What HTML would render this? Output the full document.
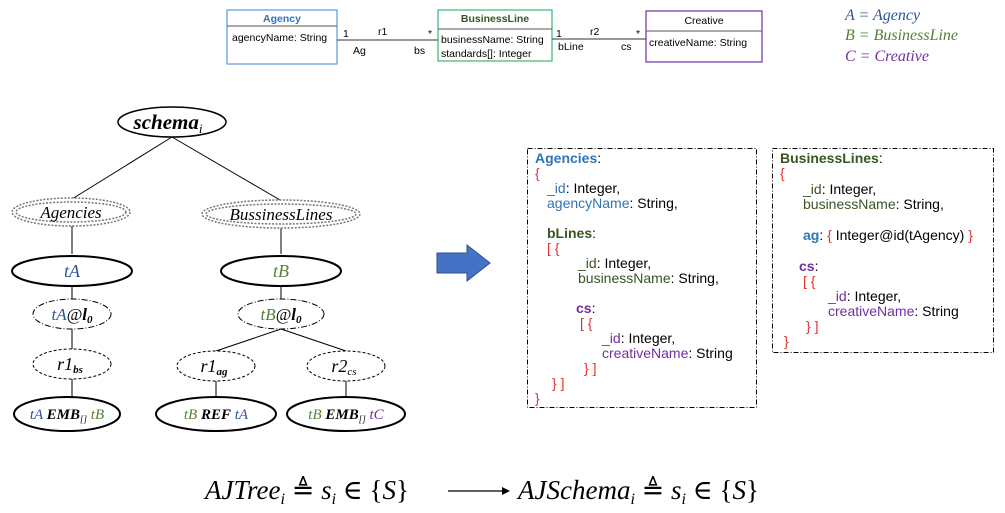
<!DOCTYPE html>
<html><head><meta charset="utf-8"><style>
html,body{margin:0;padding:0;background:#fff;}
svg{display:block;}
.u{font-family:"Liberation Sans",sans-serif;font-size:10.5px;}
.j{font-family:"Liberation Sans",sans-serif;font-size:14px;}
.m{font-family:"Liberation Serif","DejaVu Serif",serif;font-style:italic;}
</style></head><body>
<svg width="1005" height="513" viewBox="0 0 1005 513" xmlns="http://www.w3.org/2000/svg">
<rect x="227" y="10" width="110" height="54" fill="#fff" stroke="#5b9bd5" stroke-width="1.2"/>
<line x1="227" y1="26" x2="337" y2="26" stroke="#555"/>
<text x="282" y="22" class="u" text-anchor="middle" font-weight="bold" fill="#2e75b6">Agency</text>
<text x="232" y="41" class="u">agencyName: String</text>
<rect x="438" y="10" width="114" height="51" fill="#fff" stroke="#3cb371" stroke-width="1.2"/>
<line x1="438" y1="29" x2="552" y2="29" stroke="#555"/>
<text x="495" y="22" class="u" text-anchor="middle" font-weight="bold" fill="#375623">BusinessLine</text>
<text x="441" y="43" class="u">businessName: String</text>
<text x="441" y="57" class="u">standards[]: Integer</text>
<rect x="646" y="11" width="116" height="51" fill="#fff" stroke="#7030a0" stroke-width="1.2"/>
<line x1="646" y1="31" x2="762" y2="31" stroke="#555"/>
<text x="704" y="24" class="u" text-anchor="middle">Creative</text>
<text x="649" y="46" class="u">creativeName: String</text>
<line x1="337" y1="40" x2="438" y2="40" stroke="#333"/>
<line x1="552" y1="39" x2="646" y2="39" stroke="#333"/>
<text x="343" y="37" class="u">1</text><text x="378" y="35" class="u">r1</text><text x="428" y="37" class="u">*</text>
<text x="353" y="54" class="u">Ag</text><text x="414" y="54" class="u">bs</text>
<text x="556" y="37" class="u">1</text><text x="590" y="35" class="u">r2</text><text x="636" y="37" class="u">*</text>
<text x="558" y="50" class="u">bLine</text><text x="621" y="50" class="u">cs</text>
<text x="845" y="20" class="m" font-size="16" fill="#2f5597">A = Agency</text>
<text x="845" y="40" class="m" font-size="16" fill="#548235">B = BusinessLine</text>
<text x="845" y="61" class="m" font-size="16" fill="#7030a0">C = Creative</text>

<g stroke="#000" stroke-width="1">
<line x1="172" y1="137" x2="72" y2="199"/>
<line x1="172" y1="137" x2="280" y2="200"/>
<line x1="72" y1="226" x2="72" y2="254"/>
<line x1="281" y1="228" x2="281" y2="254"/>
<line x1="72" y1="286" x2="72" y2="299"/>
<line x1="281" y1="286" x2="281" y2="299"/>
<line x1="72" y1="329" x2="72" y2="349"/>
<line x1="281" y1="329" x2="216" y2="351"/>
<line x1="281" y1="329" x2="346" y2="351"/>
<line x1="72" y1="379" x2="72" y2="397"/>
<line x1="216" y1="381" x2="216" y2="397"/>
<line x1="346" y1="381" x2="346" y2="397"/>
</g>
<ellipse cx="172" cy="122" rx="54" ry="15" fill="#fff" stroke="#000" stroke-width="1.5"/>
<text x="168" y="129" class="m" font-size="21" font-weight="bold" text-anchor="middle">schema<tspan font-size="13" dy="4" font-weight="normal">i</tspan></text>
<ellipse cx="71" cy="212" rx="59" ry="14" fill="#fff" stroke="#777" stroke-width="1.5" stroke-dasharray="2,1.5"/>
<ellipse cx="71" cy="212" rx="55" ry="10" fill="none" stroke="#777" stroke-width="1.5" stroke-dasharray="2,1.5"/>
<text x="71" y="218" class="m" font-size="17" text-anchor="middle">Agencies</text>
<ellipse cx="281" cy="214" rx="79" ry="14" fill="#fff" stroke="#777" stroke-width="1.5" stroke-dasharray="2,1.5"/>
<ellipse cx="281" cy="214" rx="75" ry="10" fill="none" stroke="#777" stroke-width="1.5" stroke-dasharray="2,1.5"/>
<text x="281" y="220" class="m" font-size="17" text-anchor="middle">BussinessLines</text>
<ellipse cx="72" cy="271" rx="60" ry="15" fill="#fff" stroke="#000" stroke-width="2"/>
<text x="72" y="277" class="m" font-size="18" text-anchor="middle" fill="#2f5597">tA</text>
<ellipse cx="281" cy="271" rx="60" ry="15" fill="#fff" stroke="#000" stroke-width="2"/>
<text x="281" y="277" class="m" font-size="18" text-anchor="middle" fill="#548235">tB</text>
<ellipse cx="72" cy="314" rx="39" ry="15" fill="#fff" stroke="#000" stroke-dasharray="6,2,1,2"/>
<text x="72" y="320" class="m" font-size="17" text-anchor="middle"><tspan fill="#2f5597">tA</tspan>@<tspan font-weight="bold">l</tspan><tspan font-size="11" font-weight="bold" dy="3">0</tspan></text>
<ellipse cx="281" cy="314" rx="43" ry="15" fill="#fff" stroke="#000" stroke-dasharray="6,2,1,2"/>
<text x="281" y="320" class="m" font-size="17" text-anchor="middle"><tspan fill="#548235">tB</tspan>@<tspan font-weight="bold">l</tspan><tspan font-size="11" font-weight="bold" dy="3">0</tspan></text>
<ellipse cx="72" cy="364" rx="39" ry="15" fill="#fff" stroke="#000" stroke-dasharray="3,2"/>
<text x="70" y="370" class="m" font-size="18" text-anchor="middle">r1<tspan font-size="11" font-weight="bold" dy="3">bs</tspan></text>
<ellipse cx="216" cy="366" rx="39" ry="15" fill="#fff" stroke="#000" stroke-dasharray="3,2"/>
<text x="214" y="372" class="m" font-size="18" text-anchor="middle">r1<tspan font-size="11" font-weight="bold" dy="3">ag</tspan></text>
<ellipse cx="346" cy="366" rx="39" ry="15" fill="#fff" stroke="#000" stroke-dasharray="3,2"/>
<text x="344" y="372" class="m" font-size="18" text-anchor="middle">r2<tspan font-size="11" dy="3">cs</tspan></text>
<ellipse cx="67" cy="414" rx="53" ry="17" fill="#fff" stroke="#000" stroke-width="2"/>
<text x="67" y="419" class="m" font-size="15" text-anchor="middle"><tspan fill="#2f5597">tA</tspan> <tspan font-weight="bold">EMB</tspan><tspan font-size="9" dy="3">[]</tspan><tspan dy="-3" fill="#548235"> tB</tspan></text>
<ellipse cx="216" cy="414" rx="60" ry="17" fill="#fff" stroke="#000" stroke-width="2"/>
<text x="216" y="419" class="m" font-size="15" text-anchor="middle"><tspan fill="#548235">tB</tspan> <tspan font-weight="bold">REF</tspan> <tspan fill="#2f5597">tA</tspan></text>
<ellipse cx="346" cy="414" rx="59" ry="17" fill="#fff" stroke="#000" stroke-width="2"/>
<text x="346" y="419" class="m" font-size="15" text-anchor="middle"><tspan fill="#548235">tB</tspan>  <tspan font-weight="bold">EMB</tspan><tspan font-size="9" dy="3">[]</tspan><tspan dy="-3" fill="#7030a0"> tC</tspan></text>

<polygon points="437,253 467,253 467,245 490,263 467,281 467,273 437,273" fill="#4472c4" stroke="#2f528f"/>

<rect x="527.5" y="148.5" width="229" height="259" fill="none" stroke="#000" stroke-dasharray="5,2,1,2"/>
<rect x="772.5" y="148.5" width="221" height="204" fill="none" stroke="#000" stroke-dasharray="5,2,1,2"/>
<g class="j">
<text x="535" y="163"><tspan fill="#2e75b6" font-weight="bold">Agencies</tspan>:</text>
<text x="535" y="178" fill="#e03030">{</text>
<text x="547" y="193"><tspan fill="#2e75b6">_id</tspan>: Integer,</text>
<text x="547" y="208"><tspan fill="#2e75b6">agencyName</tspan>: String,</text>
<text x="547" y="238"><tspan fill="#375623" font-weight="bold">bLines</tspan>:</text>
<text x="547" y="253" fill="#e03030">[ {</text>
<text x="578" y="268"><tspan fill="#375623">_id</tspan>: Integer,</text>
<text x="578" y="283"><tspan fill="#375623">businessName</tspan>: String,</text>
<text x="576" y="313"><tspan fill="#7030a0" font-weight="bold">cs</tspan>:</text>
<text x="580" y="328" fill="#e03030">[ {</text>
<text x="602" y="343"><tspan fill="#7030a0">_id</tspan>: Integer,</text>
<text x="602" y="358"><tspan fill="#7030a0">creativeName</tspan>: String</text>
<text x="584" y="373" fill="#e03030">} ]</text>
<text x="552" y="388" fill="#e03030">} ]</text>
<text x="535" y="403" fill="#e03030">}</text>

<text x="780" y="163"><tspan fill="#375623" font-weight="bold">BusinessLines</tspan>:</text>
<text x="780" y="178" fill="#e03030">{</text>
<text x="803" y="194"><tspan fill="#375623">_id</tspan>: Integer,</text>
<text x="803" y="209"><tspan fill="#375623">businessName</tspan>: String,</text>
<text x="803" y="240"><tspan fill="#2e75b6" font-weight="bold">ag</tspan>: <tspan fill="#e03030">{</tspan> Integer@id(tAgency) <tspan fill="#e03030">}</tspan></text>
<text x="799" y="271"><tspan fill="#7030a0" font-weight="bold">cs</tspan>:</text>
<text x="803" y="286" fill="#e03030">[ {</text>
<text x="828" y="301"><tspan fill="#7030a0">_id</tspan>: Integer,</text>
<text x="828" y="316"><tspan fill="#7030a0">creativeName</tspan>: String</text>
<text x="806" y="331" fill="#e03030">} ]</text>
<text x="784" y="346" fill="#e03030">}</text>
</g>

<text x="205" y="499" class="m" font-size="27">AJTree<tspan font-size="16" dy="5">i</tspan><tspan dy="-5" font-style="normal">  ≜ </tspan>s<tspan font-size="16" dy="5">i</tspan><tspan dy="-5" font-style="normal"> ∈ {</tspan>S<tspan font-style="normal">}</tspan></text>
<line x1="448" y1="491" x2="502" y2="491" stroke="#000" stroke-width="1.2"/>
<polygon points="502,487 510,491 502,495" fill="#000"/>
<text x="518" y="499" class="m" font-size="27">AJSchema<tspan font-size="16" dy="5">i</tspan><tspan dy="-5" font-style="normal">  ≜ </tspan>s<tspan font-size="16" dy="5">i</tspan><tspan dy="-5" font-style="normal"> ∈ {</tspan>S<tspan font-style="normal">}</tspan></text>
</svg>
</body></html>
